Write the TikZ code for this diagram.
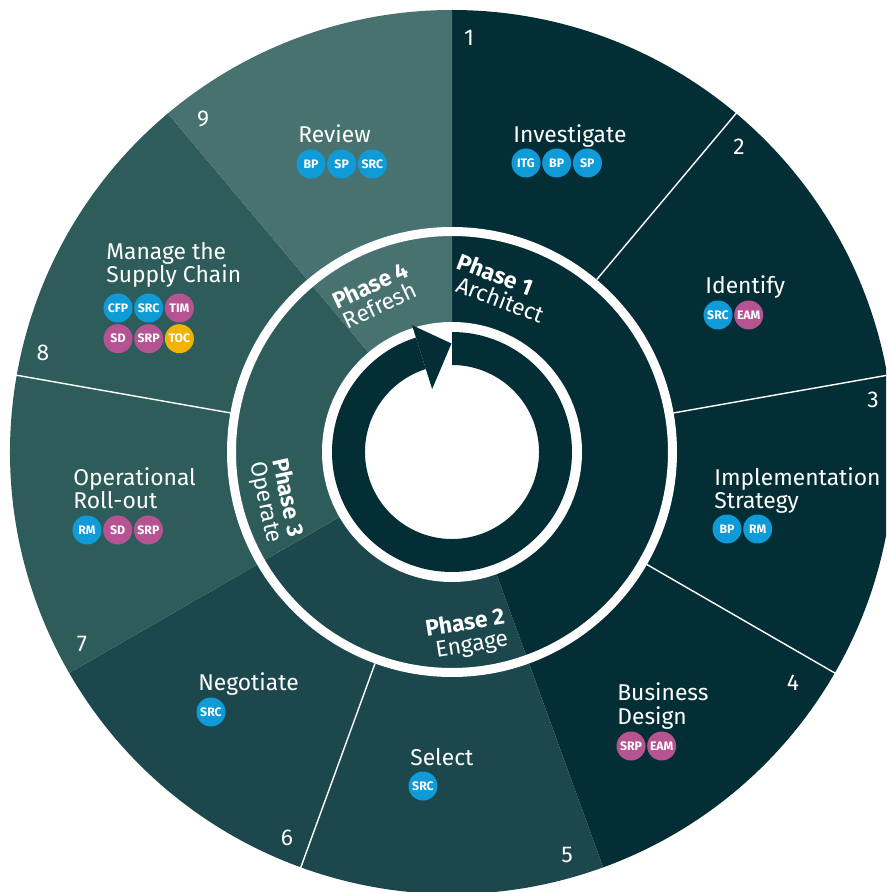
\documentclass[tikz,border=0pt]{standalone}
\usepackage{fontspec}
\setmainfont{Fira Sans}
\usetikzlibrary{positioning}
\definecolor{archcol}{HTML}{042E36}
\definecolor{engagecol}{HTML}{1B474D}
\definecolor{operatecol}{HTML}{2E5C5B}
\definecolor{refreshcol}{HTML}{48726F}
\definecolor{tagblue}{HTML}{0E9BD7}
\definecolor{tagpink}{HTML}{B65493}
\definecolor{tagyellow}{HTML}{F1B300}
\tikzstyle{stepnum} = [text=white, inner sep=0pt, font=\fontsize{13}{13}\selectfont]
\tikzstyle{steplabel} = [anchor=base west, align=left, text=white, inner sep=0pt, font=\fontsize{13}{13.1}\selectfont]
\tikzstyle{phaselabel} = [text=white, inner sep=0pt, font=\fontsize{13}{12.5}\selectfont]
\tikzstyle{tag} = [circle, minimum size=0.58cm, inner sep=0pt, text=white, font=\fontsize{7}{7}\selectfont\bfseries]
\tikzstyle{bluetag} = [tag, fill=tagblue]
\tikzstyle{pinktag} = [tag, fill=tagpink]
\tikzstyle{yellowtag} = [tag, fill=tagyellow]
\begin{document}
\begin{tikzpicture}[x=0.02cm, y=0.02cm]
\clip (-452,-440) rectangle (434,452);
\fill[white] (-452,-440) rectangle (434,452);
\fill[archcol] (0,0) -- (90:442) arc[start angle=90, end angle=-70, radius=442] -- cycle;
\fill[engagecol] (0,0) -- (-70:442) arc[start angle=-70, end angle=-150, radius=442] -- cycle;
\fill[operatecol] (0,0) -- (-150:442) arc[start angle=-150, end angle=-230, radius=442] -- cycle;
\fill[refreshcol] (0,0) -- (130:442) arc[start angle=130, end angle=90, radius=442] -- cycle;
\draw[white, line width=0.18cm] (0,0) circle[radius=220.5];
\draw[white, line width=0.8pt] (50:225) -- (50:450);
\draw[white, line width=0.8pt] (10:225) -- (10:450);
\draw[white, line width=0.8pt] (-30:225) -- (-30:450);
\draw[white, line width=0.8pt] (-110:225) -- (-110:450);
\draw[white, line width=0.8pt] (170:225) -- (170:450);
\fill[white] (0,0) circle[radius=130];
\fill[archcol] (90:120) arc[start angle=90, end angle=-252.5, radius=120] -- (107.5:87) arc[start angle=-252.5, end angle=90, radius=87] -- cycle;
\fill[archcol] (107.5:133) -- (90.3:108.5) -- (107.5:66) -- cycle;

\node (n1) [stepnum] at (17,414) {1};
\node (n2) [stepnum] at (287,305) {2};
\node (n3) [stepnum] at (421,52) {3};
\node (n4) [stepnum] at (341,-231) {4};
\node (n5) [stepnum] at (115,-403) {5};
\node (n6) [stepnum] at (-165,-386) {6};
\node (n7) [stepnum] at (-370,-192) {7};
\node (n8) [stepnum] at (-409,99) {8};
\node (n9) [stepnum] at (-249,333) {9};

\node (investigate) [steplabel] at (61,309.3) {Investigate};
\node (itg) [bluetag] at (74,289) {ITG};
\node (bp1) [bluetag, right=0.02cm of itg] {BP};
\node (sp1) [bluetag, right=0.02cm of bp1] {SP};

\node (identify) [steplabel] at (253,158.7) {Identify};
\node (src2) [bluetag] at (266,137) {SRC};
\node (eam2) [pinktag, right=0.02cm of src2] {EAM};

\node (strategy) [steplabel] at (262,-56.5) {Implementation\\Strategy};
\node (bp3) [bluetag] at (275,-77) {BP};
\node (rm3) [bluetag, right=0.02cm of bp3] {RM};

\node (business) [steplabel] at (165,-272) {Business\\Design};
\node (srp4) [pinktag] at (179,-294) {SRP};
\node (eam4) [pinktag, right=0.02cm of srp4] {EAM};

\node (select) [steplabel] at (-42,-313.7) {Select};
\node (src5) [bluetag] at (-29,-334) {SRC};

\node (negotiate) [steplabel] at (-254,-238) {Negotiate};
\node (src6) [bluetag] at (-241,-260) {SRC};

\node (rollout) [steplabel] at (-379,-56.3) {Operational\\Roll-out};
\node (rm7) [bluetag] at (-365,-78) {RM};
\node (sd7) [pinktag, right=0.02cm of rm7] {SD};
\node (srp7) [pinktag, right=0.02cm of sd7] {SRP};

\node (supply) [steplabel] at (-346,169.7) {Manage the\\Supply Chain};
\node (cfp8) [bluetag] at (-334,144) {CFP};
\node (src8) [bluetag, right=0.02cm of cfp8] {SRC};
\node (tim8) [pinktag, right=0.02cm of src8] {TIM};
\node (sd8) [pinktag, below=0.02cm of cfp8] {SD};
\node (srp8) [pinktag, right=0.02cm of sd8] {SRP};
\node (toc8) [yellowtag, right=0.02cm of srp8] {TOC};

\node (review) [steplabel] at (-154,309.6) {Review};
\node (bp9) [bluetag] at (-141,288) {BP};
\node (sp9) [bluetag, right=0.02cm of bp9] {SP};
\node (src9) [bluetag, right=0.02cm of sp9] {SRC};

\node (phase1) [phaselabel, align=left, rotate=-21] at (49,164) {\textbf{Phase 1}\\\hspace{0.3em}Architect};
\node (phase2) [phaselabel, align=right, rotate=9] at (15,-183) {\textbf{Phase 2}\\Engage};
\node (phase3) [phaselabel, align=center, rotate=-78] at (-176,-48) {\textbf{Phase 3}\\Operate};
\node (phase4) [phaselabel, align=center, rotate=25] at (-77,157) {\textbf{Phase 4}\\Refresh};
\end{tikzpicture}
\end{document}
